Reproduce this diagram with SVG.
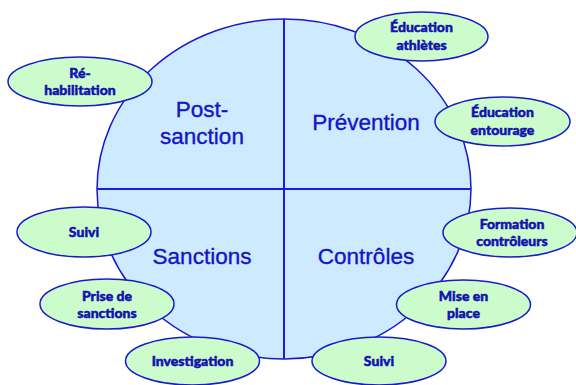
<svg xmlns="http://www.w3.org/2000/svg" width="576" height="385" viewBox="0 0 576 385">
<style>
.big{font-family:"Liberation Sans",Arial,sans-serif;font-size:22.5px;fill:#1414c8;stroke:#1414c8;stroke-width:0.35;text-anchor:middle}
.sm{font-family:Lato,"Noto Sans","Liberation Sans",sans-serif;font-size:14px;font-weight:900;fill:#1212b0;stroke:#1212b0;stroke-width:0.5;text-anchor:middle}
.node{fill:#ccfccc;stroke:#1a1ac8;stroke-width:1.5}
.line{stroke:#1a1ae6;stroke-width:2;fill:none}
</style>
<rect width="576" height="385" fill="#ffffff"/>
<g id="main">
<ellipse cx="284" cy="189" rx="187" ry="170" fill="#cdeafe" stroke="#1a1ac8" stroke-width="1.5"/>
</g>
<g id="connectors">
<line class="line" x1="284" y1="19" x2="284" y2="359"/>
<line class="line" x1="97" y1="189" x2="471" y2="189"/>
</g>
<g id="quadrants">
<text class="big" x="202" y="117">Post-</text>
<text class="big" x="202" y="144">sanction</text>
<text class="big" x="366" y="130">Prévention</text>
<text class="big" x="202" y="264">Sanctions</text>
<text class="big" x="366" y="264">Contrôles</text>
</g>
<g id="n-rehab"><ellipse class="node" cx="80" cy="81.5" rx="72" ry="24.5"/><text class="sm" x="80" y="78">Ré-</text><text class="sm" x="80" y="95">habilitation</text></g>
<g id="n-edu-ath"><ellipse class="node" cx="421.5" cy="36.5" rx="66.5" ry="24.5"/><text class="sm" x="421.5" y="32">Éducation</text><text class="sm" x="421.5" y="50">athlètes</text></g>
<g id="n-edu-ent"><ellipse class="node" cx="502.5" cy="121.5" rx="67.5" ry="24.5"/><text class="sm" x="502.5" y="117">Éducation</text><text class="sm" x="502.5" y="135">entourage</text></g>
<g id="n-suivi-l"><ellipse class="node" cx="84" cy="232" rx="67" ry="25"/><text class="sm" x="84" y="237">Suivi</text></g>
<g id="n-prise"><ellipse class="node" cx="107" cy="304" rx="67" ry="25"/><text class="sm" x="107" y="301">Prise de</text><text class="sm" x="107" y="318">sanctions</text></g>
<g id="n-invest"><ellipse class="node" cx="192.5" cy="361" rx="67" ry="24"/><text class="sm" x="192.5" y="366">Investigation</text></g>
<g id="n-formation"><ellipse class="node" cx="510" cy="232.5" rx="67" ry="24.5"/><text class="sm" x="512" y="229">Formation</text><text class="sm" x="512" y="246">contrôleurs</text></g>
<g id="n-mise"><ellipse class="node" cx="463.5" cy="304.5" rx="67" ry="24.5"/><text class="sm" x="463.5" y="301">Mise en</text><text class="sm" x="463.5" y="318">place</text></g>
<g id="n-suivi-r"><ellipse class="node" cx="379" cy="361" rx="67" ry="24"/><text class="sm" x="379" y="366">Suivi</text></g>
</svg>
